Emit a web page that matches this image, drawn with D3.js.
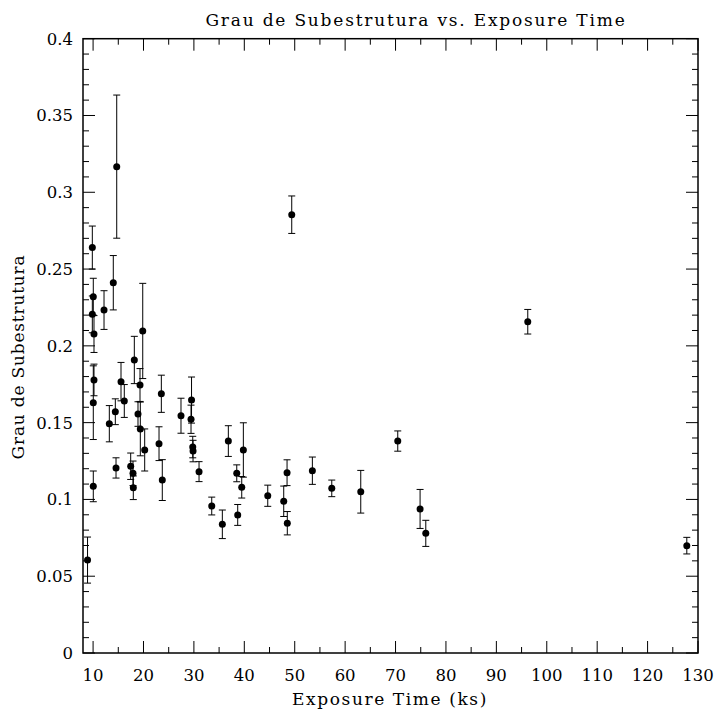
<!DOCTYPE html>
<html>
<head>
<meta charset="utf-8">
<script src="https://cdn.jsdelivr.net/npm/d3@7"></script>
<style>
  body { margin: 0; background: #fff; }
  text { font-family: "DejaVu Serif", serif; fill: #000; }
</style>
</head>
<body>
<div id="chart"></div>
<script>
// exposure time (ks)
const exposure = [
  8.9, 9.85, 10.04, 9.85, 10.18, 10.18, 10.04, 10.04, 12.17, 14.01,
  14.69, 13.22, 14.41, 14.55, 15.54, 16.19, 18.18, 19.85, 19.31, 18.91,
  19.37, 20.24, 17.46, 17.92, 17.98, 23.54, 23.08, 23.73, 27.44, 29.53,
  29.43, 29.77, 29.83, 31.02, 33.54, 35.64, 36.83, 38.5, 38.69, 39.49,
  39.81, 44.65, 47.82, 48.48, 48.53, 49.41, 53.5, 57.35, 63.1, 70.44,
  74.87, 76.0, 96.23, 127.78
];
// grau de subestrutura
const subestrutura = [
  0.0605, 0.264, 0.232, 0.2205, 0.2077, 0.1778, 0.163, 0.1085, 0.2233, 0.2411,
  0.3167, 0.1493, 0.1571, 0.1205, 0.1767, 0.1641, 0.1908, 0.2097, 0.1745, 0.1556,
  0.1459, 0.1322, 0.1216, 0.117, 0.1076, 0.1688, 0.1363, 0.1126, 0.1545, 0.1647,
  0.1522, 0.1341, 0.1315, 0.1181, 0.0957, 0.0838, 0.138, 0.117, 0.0899, 0.1079,
  0.1322, 0.1024, 0.0988, 0.1174, 0.0845, 0.2854, 0.1187, 0.1072, 0.105, 0.138,
  0.0938, 0.0779, 0.2157, 0.0699
];
// symmetric error
const erro = [
  0.015, 0.014, 0.012, 0.012, 0.012, 0.0103, 0.024, 0.010, 0.0126, 0.0177,
  0.0466, 0.0118, 0.0084, 0.0066, 0.0125, 0.0107, 0.0154, 0.031, 0.0107, 0.008,
  0.0175, 0.0137, 0.0086, 0.008, 0.0077, 0.0121, 0.011, 0.0133, 0.0114, 0.015,
  0.0092, 0.007, 0.007, 0.0065, 0.0058, 0.0093, 0.010, 0.0055, 0.0068, 0.007,
  0.0177, 0.0069, 0.0099, 0.0084, 0.0076, 0.0122, 0.0089, 0.0054, 0.0139, 0.0066,
  0.0127, 0.0085, 0.008, 0.0054
];
const xTicks = [10, 20, 30, 40, 50, 60, 70, 80, 90, 100, 110, 120, 130];
const yTicks = [0, 0.05, 0.1, 0.15, 0.2, 0.25, 0.3, 0.35, 0.4];

const data = exposure.map((t, i) => ({ t, g: subestrutura[i], e: erro[i] }));

const W = 716, H = 711;
const plot = { left: 83, right: 698, top: 38.7, bottom: 653 };

const svg = d3.select("#chart").append("svg")
  .attr("width", W).attr("height", H);

const x = d3.scaleLinear().domain([8, 130]).range([plot.left, plot.right]);
const y = d3.scaleLinear().domain([0, 0.4]).range([plot.bottom, plot.top]);

// tick marks on all four sides, pointing inward
const ticks = svg.append("g").attr("stroke", "#000").attr("stroke-width", 1);
d3.range(10, 130.01, 5).forEach(v => {
  const len = v % 10 === 0 ? 12 : 6;
  ticks.append("line").attr("x1", x(v)).attr("x2", x(v))
    .attr("y1", plot.bottom).attr("y2", plot.bottom - len);
  ticks.append("line").attr("x1", x(v)).attr("x2", x(v))
    .attr("y1", plot.top).attr("y2", plot.top + len);
});
d3.range(0, 41).forEach(k => {
  const v = k / 100;
  const len = k % 5 === 0 ? 12 : 6;
  ticks.append("line").attr("y1", y(v)).attr("y2", y(v))
    .attr("x1", plot.left).attr("x2", plot.left + len);
  ticks.append("line").attr("y1", y(v)).attr("y2", y(v))
    .attr("x1", plot.right).attr("x2", plot.right - len);
});

svg.append("rect")
  .attr("x", plot.left).attr("y", plot.top)
  .attr("width", plot.right - plot.left).attr("height", plot.bottom - plot.top)
  .attr("fill", "none").attr("stroke", "#000").attr("stroke-width", 1.5);

// tick labels
svg.append("g").selectAll("text").data(xTicks).join("text")
  .attr("x", d => x(d)).attr("y", 681)
  .attr("text-anchor", "middle").attr("font-size", 16.5)
  .text(d => d);

svg.append("g").selectAll("text").data(yTicks).join("text")
  .attr("x", 73).attr("y", d => y(d) + 6)
  .attr("text-anchor", "end").attr("font-size", 16.5)
  .text(d => d);

// error bars
const eb = svg.append("g").attr("stroke", "#000").attr("stroke-width", 1);
eb.selectAll("line.bar").data(data).join("line").attr("class", "bar")
  .attr("x1", d => x(d.t)).attr("x2", d => x(d.t))
  .attr("y1", d => y(d.g - d.e)).attr("y2", d => y(d.g + d.e));
eb.selectAll("line.top").data(data).join("line").attr("class", "top")
  .attr("x1", d => x(d.t) - 3.5).attr("x2", d => x(d.t) + 3.5)
  .attr("y1", d => y(d.g + d.e)).attr("y2", d => y(d.g + d.e));
eb.selectAll("line.bot").data(data).join("line").attr("class", "bot")
  .attr("x1", d => x(d.t) - 3.5).attr("x2", d => x(d.t) + 3.5)
  .attr("y1", d => y(d.g - d.e)).attr("y2", d => y(d.g - d.e));

svg.append("g").selectAll("circle").data(data).join("circle")
  .attr("cx", d => x(d.t)).attr("cy", d => y(d.g))
  .attr("r", 3.5).attr("fill", "#000");

// titles
svg.append("text").attr("x", 416).attr("y", 26)
  .attr("text-anchor", "middle").attr("font-size", 17)
  .attr("letter-spacing", 1.8)
  .text("Grau de Subestrutura vs. Exposure Time");

svg.append("text").attr("x", 390).attr("y", 705)
  .attr("text-anchor", "middle").attr("font-size", 17)
  .attr("letter-spacing", 1.6)
  .text("Exposure Time (ks)");

svg.append("text")
  .attr("transform", "translate(24,357) rotate(-90)")
  .attr("text-anchor", "middle").attr("font-size", 17)
  .attr("letter-spacing", 0.8)
  .text("Grau de Subestrutura");
</script>
</body>
</html>
